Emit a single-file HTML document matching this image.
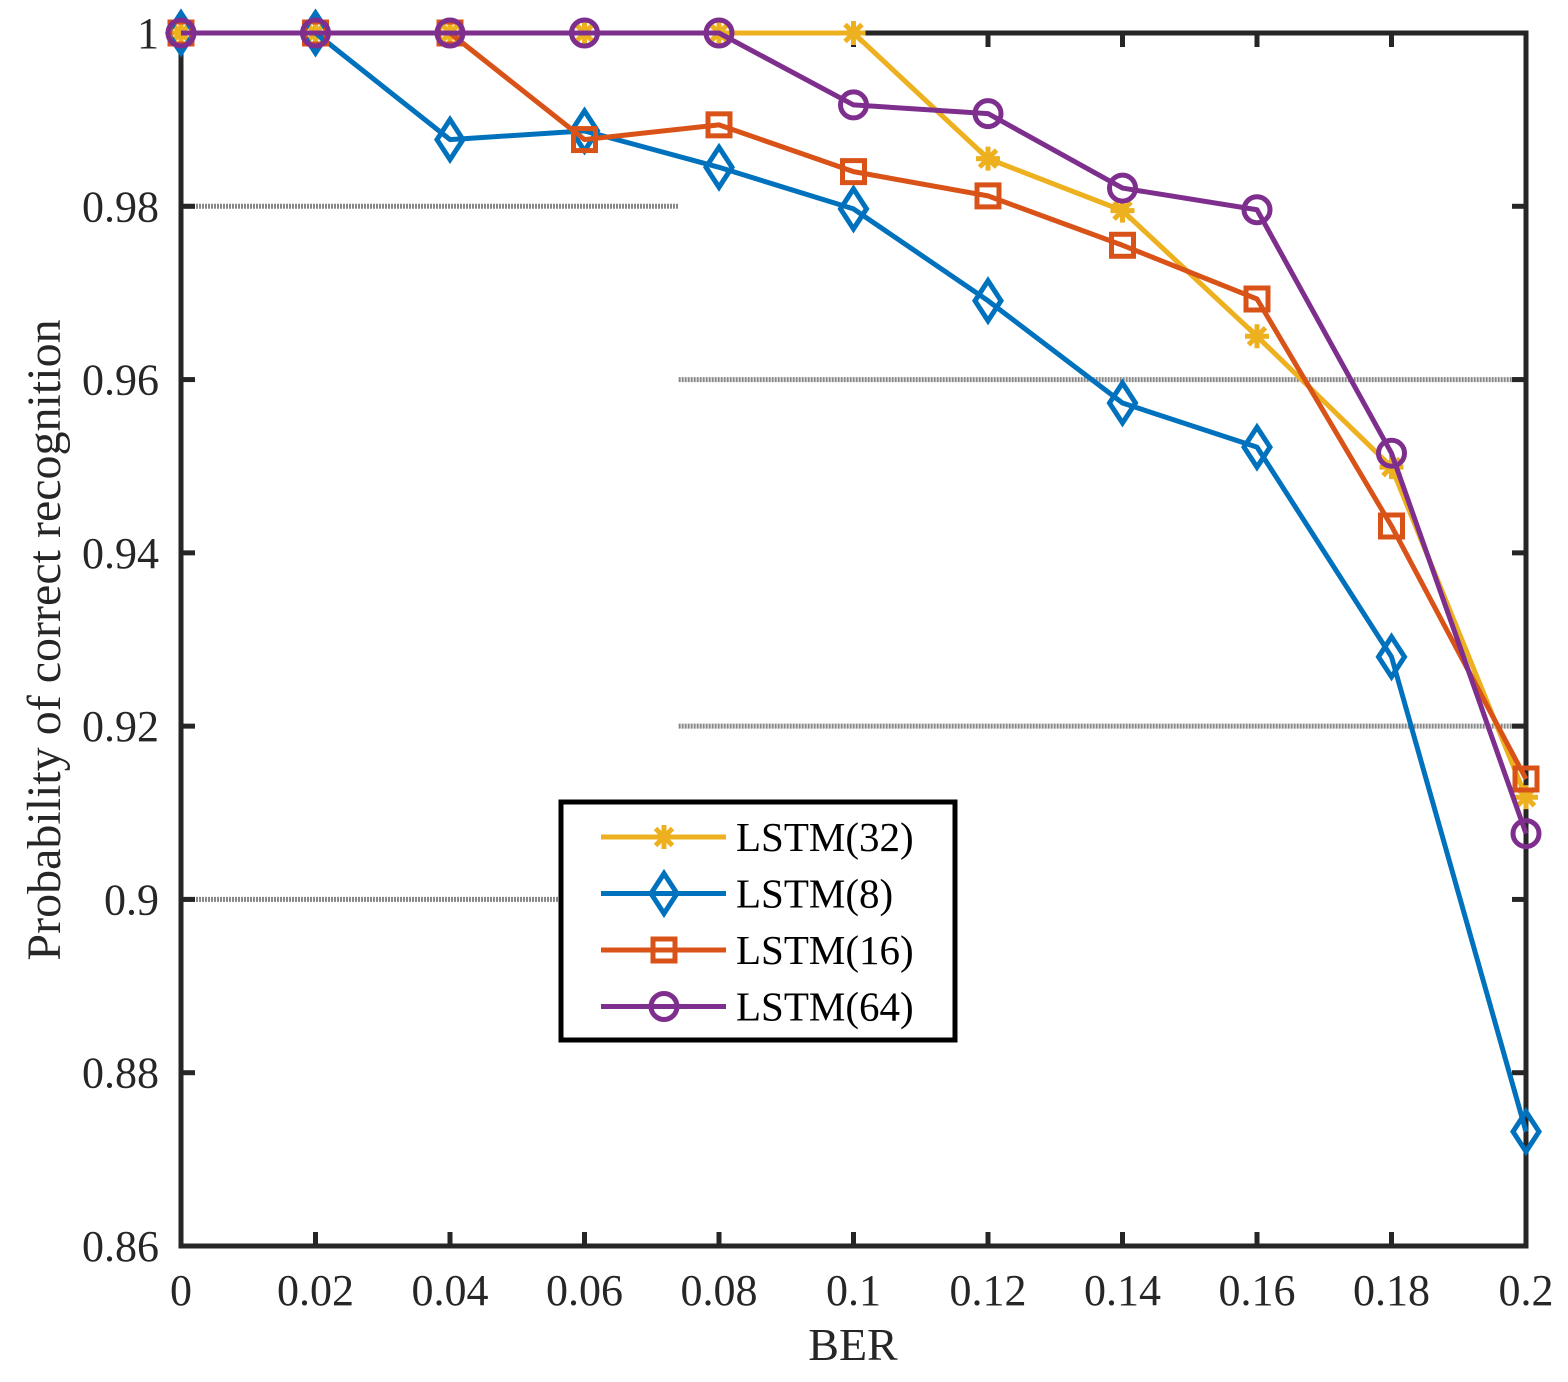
<!DOCTYPE html>
<html><head><meta charset="utf-8"><style>
body{margin:0;background:#fff}
svg{display:block;font-family:"Liberation Serif","Times New Roman",serif}
</style></head><body>
<svg id="c" width="1568" height="1382" viewBox="0 0 1568 1382"></svg>
<script>
const xVals=[0,0.02,0.04,0.06,0.08,0.1,0.12,0.14,0.16,0.18,0.2];
const xTicks=["0","0.02","0.04","0.06","0.08","0.1","0.12","0.14","0.16","0.18","0.2"];
const yTickVals=[0.86,0.88,0.9,0.92,0.94,0.96,0.98,1];
const yTicks=["0.86","0.88","0.9","0.92","0.94","0.96","0.98","1"];
const lstm32=[1,1,1,1,1,1,0.9855,0.9795,0.965,0.9499,0.9118];
const lstm8=[1,1,0.9877,0.9887,0.9845,0.9797,0.9691,0.9573,0.9522,0.928,0.8732];
const lstm16=[1,1,1,0.9877,0.9894,0.984,0.9812,0.9755,0.9693,0.9431,0.9139];
const lstm64=[1,1,1,1,1,0.9917,0.9907,0.9821,0.9796,0.9515,0.9076];
const L=181,R=1526,T=33,B=1246;
const X=v=>L+(v-0)/0.2*(R-L);
const Y=v=>B-(v-0.86)/0.14*(B-T);
const svg=document.getElementById('c');
const NS='http://www.w3.org/2000/svg';
function mk(t,a,p){const e=document.createElementNS(NS,t);for(const k in a)e.setAttribute(k,a[k]);(p||svg).appendChild(e);return e;}
const grid=[[0.98,0,0.074],[0.96,0.074,0.2],[0.92,0.074,0.2],[0.9,0,0.074]];
grid.forEach(g=>{const e=mk('line',{x1:X(g[1]),x2:X(g[2]),y1:Y(g[0]),y2:Y(g[0]),stroke:'#888','stroke-width':5,'stroke-dasharray':'2 1'});

});
xVals.forEach((v,i)=>{mk('line',{x1:X(v),x2:X(v),y1:B,y2:B-14,stroke:'#262626','stroke-width':5});mk('line',{x1:X(v),x2:X(v),y1:T,y2:T+14,stroke:'#262626','stroke-width':5});
const t=mk('text',{x:X(v),y:1305,'text-anchor':'middle','font-size':44,fill:'#262626'});t.textContent=xTicks[i];

});
yTickVals.forEach((v,i)=>{mk('line',{x1:L,x2:L+14,y1:Y(v),y2:Y(v),stroke:'#262626','stroke-width':5});mk('line',{x1:R,x2:R-14,y1:Y(v),y2:Y(v),stroke:'#262626','stroke-width':5});
const t=mk('text',{x:159,y:Y(v)+15,'text-anchor':'end','font-size':44,fill:'#262626'});t.textContent=yTicks[i];

});
const ax=mk('rect',{x:L,y:T,width:R-L,height:B-T,fill:'none',stroke:'#262626','stroke-width':5});


function marker(type,x,y,col,g){
 if(type==='star'){for(let a=0;a<4;a++){const an=a*Math.PI/4;mk('line',{x1:x-12*Math.cos(an),y1:y-12*Math.sin(an),x2:x+12*Math.cos(an),y2:y+12*Math.sin(an),stroke:col,'stroke-width':5},g);}}
 else if(type==='diamond')mk('polygon',{points:`${x},${y-20} ${x+13},${y} ${x},${y+20} ${x-13},${y}`,fill:'none',stroke:col,'stroke-width':5},g);
 else if(type==='square')mk('rect',{x:x-11,y:y-11,width:22,height:22,fill:'none',stroke:col,'stroke-width':5},g);
 else mk('circle',{cx:x,cy:y,r:13,fill:'none',stroke:col,'stroke-width':5},g);
}
const series=[[lstm32,'#EDB120','star','LSTM(32)','series-lstm32'],[lstm8,'#0072BD','diamond','LSTM(8)','series-lstm8'],[lstm16,'#D95319','square','LSTM(16)','series-lstm16'],[lstm64,'#7E2F8E','circle','LSTM(64)','series-lstm64']];
series.forEach(s=>{const g=mk('g',{});


mk('polyline',{points:s[0].map((v,i)=>X(xVals[i])+','+Y(v)).join(' '),fill:'none',stroke:s[1],'stroke-width':5,'stroke-linejoin':'round'},g);
s[0].forEach((v,i)=>marker(s[2],X(xVals[i]),Y(v),s[1],g));});
const lg=mk('g',{});


mk('rect',{x:561,y:802,width:394,height:238,fill:'#fff',stroke:'#000','stroke-width':5},lg);
series.forEach((s,i)=>{const y=837+i*56.5;const e=mk('g',{},lg);


mk('line',{x1:601,x2:726,y1:y,y2:y,stroke:s[1],'stroke-width':5},e);marker(s[2],664,y,s[1],e);
const t=mk('text',{x:736,y:y+14,'font-size':41,fill:'#000'},e);t.textContent=s[3];});
const xt=mk('text',{x:853,y:1360,'text-anchor':'middle','font-size':46,fill:'#262626'});xt.textContent='BER';


const yt=mk('text',{x:0,y:0,'text-anchor':'middle','font-size':48,fill:'#262626',transform:'translate(60,640) rotate(-90)'});yt.textContent='Probability of correct recognition';


</script>
</body></html>
